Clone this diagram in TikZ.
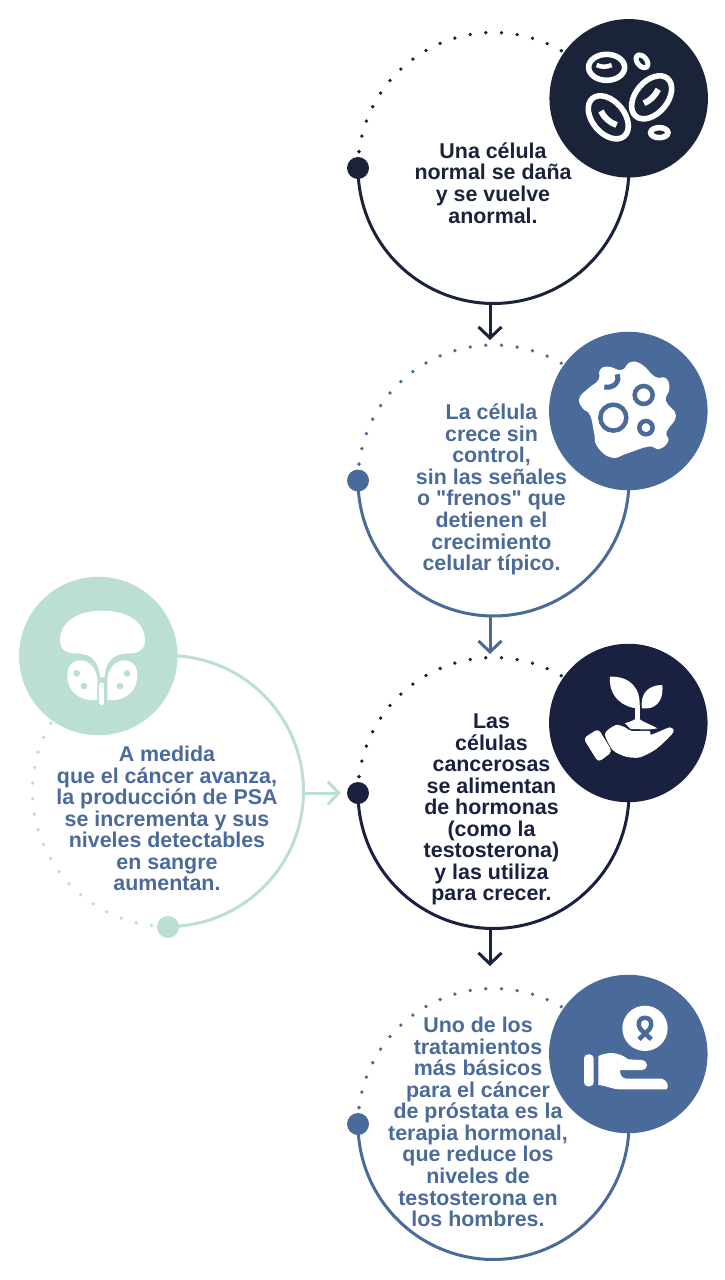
\documentclass[tikz,border=0pt]{standalone}
\usepackage{fontspec}
\newfontfamily\labelfont{Liberation Sans}[BoldFont={Liberation Sans Bold}]
\usetikzlibrary{arrows.meta}
\definecolor{navyA}{HTML}{1A2338}
\definecolor{navyB}{HTML}{1A2140}
\definecolor{steel}{HTML}{4A6B9A}
\definecolor{mint}{HTML}{BCDFD3}
\newcommand{\ringat}[4]{% cx, cy, rotation, colour
  \foreach \i in {0,...,17}{
    \pgfmathsetmacro{\ang}{#3+60+\i*6.65}
    \fill[#4] ({#1+135.5*cos(\ang)},{#2-135.5*sin(\ang)}) circle[radius=1.9];
  }
  \draw[#4,line width=3pt] plot[domain={#3+180}:{#3+370},samples=80] ({#1+135.5*cos(\x)},{#2-135.5*sin(\x)});
}
\tikzset{
  iconbg/.style={circle,inner sep=0pt,minimum size=158.5pt},
  pin/.style={circle,inner sep=0pt,minimum size=22pt},
  label/.style={align=center,inner sep=0pt,font=\labelfont\fontsize{21.4}{21.55}\selectfont\bfseries},
  link/.style={line width=3pt,-{Straight Barb[length=11pt,width=23pt,line width=3pt]}},
  zoomed/.style={x=0.3333pt,y=-0.3333pt},
}
\begin{document}
\begin{tikzpicture}[x=1pt,y=-1pt]
\useasboundingbox (0,0) rectangle (725,1280);
\fill[white] (0,0) rectangle (725,1280);
% rings
\ringat{493.5}{168}{0}{navyA}
\ringat{493.5}{480.5}{0}{steel}
\ringat{493.5}{793}{0}{navyB}
\ringat{493.5}{1124}{0}{steel}
\ringat{168}{791}{90}{mint}
% pins
\node[pin,fill=navyA] (p1) at (358,168) {};
\node[pin,fill=steel] (p2) at (358,480.5) {};
\node[pin,fill=navyB] (p3) at (358,793) {};
\node[pin,fill=steel] (p4) at (358,1124) {};
\node[pin,fill=mint] (p5) at (168,927) {};
% icon discs
\node[iconbg,fill=navyA] (i1) at (628.7,98.3) {};
\node[iconbg,fill=steel] (i2) at (628.3,411) {};
\node[iconbg,fill=navyB] (i3) at (628.3,723) {};
\node[iconbg,fill=steel] (i4) at (628.3,1054) {};
\node[iconbg,fill=mint] (i5) at (98.3,656) {};
% connector ends
\coordinate (b1) at (490,304);
\coordinate (t2) at (490,340);
\coordinate (b2) at (490,617);
\coordinate (t3) at (490,654);
\coordinate (b3) at (490,929);
\coordinate (t4) at (490,966);
\coordinate (r5) at (304,793);
\draw[link,navyA] (b1) -- (t2);
\draw[link,steel] (b2) -- (t3);
\draw[link,navyB] (b3) -- (t4);
\draw[link,mint,shorten >=6pt] (r5) -- (p3.west);
% icon 1: cells
\begin{scope}[shift={(340,10)},zoomed]
  \begin{scope}[white,line width=5.6pt]
    \draw (800,172) ellipse [x radius=54,y radius=39];
    \draw[line width=5pt] (906,154) [rotate around={-50:(906,154)}] ellipse [x radius=22,y radius=14];
    \draw (935,262) [rotate around={50:(935,262)}] ellipse [x radius=74,y radius=48];
    \draw (805,322) [rotate around={-50:(805,322)}] ellipse [x radius=74,y radius=48];
    \draw (958,368) ellipse [x radius=26,y radius=15];
    \draw[line width=6pt] (912,280) .. controls (930,272) and (945,258) .. (955,238);
    \draw[line width=6pt] (783,303) .. controls (790,320) and (808,338) .. (830,345);
    \draw[line width=4.5pt] (770,165) .. controls (785,172) and (800,172) .. (815,165);
  \end{scope}
\end{scope}
% icon 2: cancer cell
\begin{scope}[shift={(540,325)},zoomed]
  \fill[white] plot[smooth cycle,tension=0.8] coordinates {
    (205,125) (245,135) (270,112) (305,118) (345,155) (378,160) (388,192) (378,228)
    (408,272) (380,320) (385,348) (358,372) (325,365) (262,385) (215,398) (172,365)
    (162,322) (150,270) (128,250) (118,220) (145,190) (175,165) (180,135)};
  \begin{scope}[steel,line width=4.5pt]
    \draw (220,278) circle [radius=39];
    \draw (311,210) circle [radius=27];
    \draw (318,308) circle [radius=20];
    \draw[line width=5pt] (232,148) .. controls (240,165) and (225,192) .. (193,186);
  \end{scope}
\end{scope}
% icon 3: plant in hand
\begin{scope}[shift={(540,640)},zoomed]
  \fill[white] (210,110) .. controls (270,108) and (305,145) .. (298,205)
    .. controls (250,205) and (205,170) .. (210,110) -- cycle;
  \fill[white] (367,135) .. controls (325,135) and (300,160) .. (306,205)
    .. controls (345,210) and (372,185) .. (367,135) -- cycle;
  \fill[white] (286,195) rectangle (300,240);
  \fill[white] (255,250) .. controls (270,245) and (285,240) .. (292,232)
    .. controls (305,245) and (335,255) .. (352,265) .. controls (330,270) and (320,268) .. (272,267) -- cycle;
  \fill[white,rounded corners=4pt] (130,295) -- (175,266) -- (217,335) -- (175,367) -- cycle;
  \fill[white] plot[smooth cycle,tension=0.45] coordinates {
    (195,281) (228,255) (255,262) (275,273) (328,273) (334,284) (390,262) (399,278)
    (350,326) (300,352) (258,350) (218,330)};
\end{scope}
% icon 4: hand with ribbon
\begin{scope}[shift={(540,970)},zoomed]
  \fill[white] (315,175) circle [radius=68];
  \draw[steel,line width=4.5pt,line join=round] (297,208) -- (328,178)
    .. controls (340,160) and (332,143) .. (315,143)
    .. controls (298,143) and (290,160) .. (302,178) -- (334,208);
  \fill[white,rounded corners=4pt] (132,253) rectangle (161,349);
  \fill[white] (175,258) .. controls (205,245) and (235,245) .. (265,268)
    -- (305,270) .. controls (325,272) and (328,298) .. (305,300)
    -- (240,300) .. controls (240,315) and (245,325) .. (260,326)
    -- (365,326) .. controls (382,330) and (388,350) .. (380,358)
    -- (240,358) .. controls (215,358) and (195,345) .. (175,345) -- cycle;
\end{scope}
% icon 5: prostate
\begin{scope}[shift={(10,570)},zoomed]
  \fill[white] (150,205) .. controls (155,150) and (210,122) .. (277,122)
    .. controls (345,122) and (400,150) .. (405,205)
    .. controls (407,235) and (390,248) .. (365,250)
    .. controls (325,250) and (290,255) .. (283,322) -- (271,322)
    .. controls (262,255) and (230,250) .. (190,250)
    .. controls (165,248) and (148,235) .. (150,205) -- cycle;
  \fill[white] (172,315) .. controls (172,280) and (195,268) .. (220,272)
    .. controls (250,280) and (258,305) .. (262,325) -- (262,390)
    .. controls (230,395) and (172,380) .. (172,315) -- cycle;
  \fill[white] (382,315) .. controls (382,280) and (359,268) .. (334,272)
    .. controls (304,280) and (296,305) .. (292,325) -- (292,390)
    .. controls (324,395) and (382,380) .. (382,315) -- cycle;
  \draw[white,line width=5pt,line cap=round] (276,345) -- (276,398);
  \fill[mint] (200,310) circle [radius=10] (222,348) circle [radius=10]
    (351,310) circle [radius=10] (330,348) circle [radius=10];
\end{scope}
% labels
\node[label,text=navyA] (t1) at (493,183) {Una célula\\normal se daña\\y se vuelve\\anormal.};
\node[label,text=steel] (tt2) at (491.5,489.5) {La célula\\crece sin\\control,\\sin las señales\\o "frenos" que\\detienen el\\crecimiento\\celular típico.};
\node[label,text=navyB] (tt3) at (491.5,809.5) {Las\\células\\cancerosas\\se alimentan\\de hormonas\\(como la\\testosterona)\\y las utiliza\\para crecer.};
\node[label,text=steel] (tt4) at (478,1122) {Uno de los\\tratamientos\\más básicos\\para el cáncer\\de próstata es la\\terapia hormonal,\\que reduce los\\niveles de\\testosterona en\\los hombres.};
\node[label,text=steel] (tt5) at (167,818.5) {A medida\\que el cáncer avanza,\\la producción de PSA\\se incrementa y sus\\niveles detectables\\en sangre\\aumentan.};
\end{tikzpicture}
\end{document}
